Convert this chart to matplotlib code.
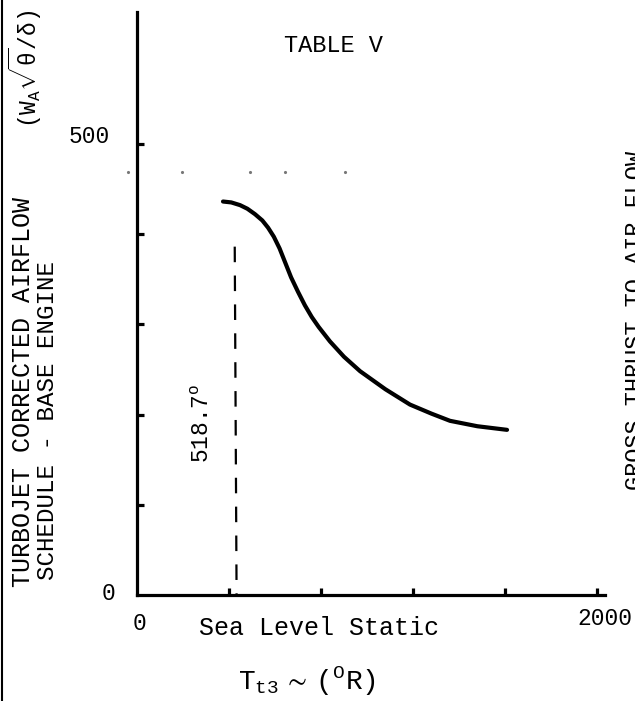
import matplotlib
matplotlib.use('Agg')
import matplotlib.pyplot as plt
from matplotlib.lines import Line2D

plt.rcParams['font.family'] = ['Liberation Mono', 'DejaVu Sans']
plt.rcParams['mathtext.fontset'] = 'custom'
plt.rcParams['mathtext.rm'] = 'Liberation Mono'
plt.rcParams['mathtext.it'] = 'Liberation Mono:italic'
plt.rcParams['mathtext.bf'] = 'Liberation Mono:bold'

# corrected airflow schedule vs Tt3
tt3 = [374, 410, 448, 480, 513, 545, 570, 595, 620, 645, 670, 700, 730, 760, 790, 839, 900, 970,
       1080, 1187, 1280, 1361, 1480, 1609]
airflow = [436, 435, 432, 428, 422, 415, 407, 397, 384, 368, 352, 336, 321, 308, 297, 281, 264, 248,
           228, 211, 201, 193, 187, 183]

# sea level static marker (position as drawn on the axis)
sls_x = 425
sls_top = 386
sls_label = '518.7$^{\\mathregular{o}}$'

x_ticks = [400, 800, 1200, 1600, 2000]
y_ticks = [100, 200, 300, 400, 500]
x_ticklabels = ['0', '2000']
x_ticklabel_pos = [0, 2000]
y_ticklabels = ['0', '500']
y_ticklabel_pos = [0, 500]

# faint dotted guide left over on the scan
guide_x = [-39, 196, 491, 643, 904]
guide_y = 469

W, H = 635, 701


def fpos(x, y):
    return x / W, 1 - y / H


fig = plt.figure(figsize=(6.35, 7.01), dpi=100)
ax = fig.add_axes([137 / W, 1 - 595 / H, (605 - 137) / W, (595 - 12) / H])
ax.set_xlim(0, 2035)
ax.set_ylim(0, 646)

for s in ['top', 'right']:
    ax.spines[s].set_visible(False)
for s in ['left', 'bottom']:
    ax.spines[s].set_linewidth(2.3)
    ax.spines[s].set_capstyle('projecting')

ax.set_xticks(x_ticks)
ax.set_yticks(y_ticks)
ax.set_xticklabels([])
ax.set_yticklabels([])
ax.tick_params(direction='in', length=5, width=2.3, color='black')

# schedule curve
ax.plot(tt3, airflow, color='black', lw=3, solid_capstyle='round', solid_joinstyle='round')

# sea level static line
ax.plot([sls_x, sls_x + 8], [sls_top, 0], color='black', lw=1.6, linestyle=(0, (7, 6)))
ax.text(sls_x - 140, 146, sls_label, rotation=90, ha='center', va='bottom', fontsize=16.5)

ax.plot(guide_x, [guide_y] * len(guide_x), linestyle='none', marker='.', ms=2.5,
        color='#777777', clip_on=False)

# tick labels
for v, lab in zip(y_ticklabel_pos, y_ticklabels):
    off = -22 if v == 0 else -27
    ax.annotate(lab, xy=(0, v), xytext=(off, 2 if v == 0 else 7), textcoords='offset pixels',
                ha='right', va='center', fontsize=16.5)
for v, lab in zip(x_ticklabel_pos, x_ticklabels):
    off = 3 if v == 0 else 8
    ax.annotate(lab, xy=(v, 0), xytext=(off, -17 if v == 0 else -12), textcoords='offset pixels',
                ha='center', va='top', fontsize=16.5)

fig.text(*fpos(333, 52), 'TABLE V', ha='center', va='baseline', fontsize=17)
fig.text(*fpos(319, 635), 'Sea Level Static', ha='center', va='baseline', fontsize=18)
fig.text(*fpos(307, 690), '$\\mathregular{T_{t3}\\ \\sim\\ (^{O}R)}$', ha='center', va='baseline',
         fontsize=20)

fig.text(*fpos(23, 587), 'TURBOJET CORRECTED AIRFLOW', rotation=90, ha='center', va='bottom', fontsize=18)
fig.text(*fpos(48, 580), 'SCHEDULE - BASE ENGINE', rotation=90, ha='center', va='bottom', fontsize=17.5)
fig.text(*fpos(25, 128), '$\\mathregular{(W_A\\sqrt{\\theta}/\\delta)}$', rotation=90, ha='center',
         va='bottom', fontsize=16.5)

fig.text(*fpos(624, 490), 'GROSS THRUST TO AIR FLOW', rotation=90, ha='left', va='bottom', fontsize=17)

fig.add_artist(Line2D([2 / W, 2 / W], [0, 1], color='black', lw=1.5))

fig.savefig('out.png', dpi=100, facecolor='white')
